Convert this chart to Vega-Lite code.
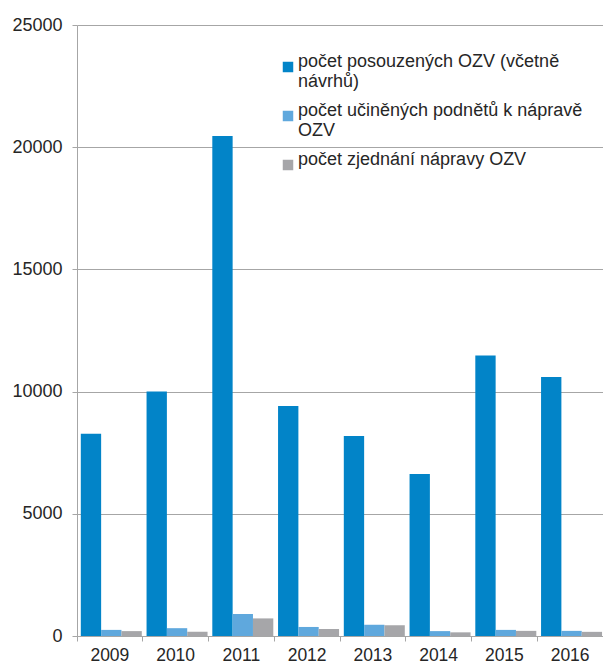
{
  "$schema": "https://vega.github.io/schema/vega-lite/v6.json",
  "autosize": "none",
  "width": 526,
  "height": 611,
  "padding": {"left": 77, "top": 25, "right": 0, "bottom": 28},
  "background": "white",
  "config": {
    "view": {"stroke": null},
    "font": "Liberation Sans"
  },
  "data": {
    "values": [
      {"year": "2009", "series": "počet posouzených OZV (včetně návrhů)", "value": 8280},
      {"year": "2009", "series": "počet učiněných podnětů k nápravě OZV", "value": 250},
      {"year": "2009", "series": "počet zjednání nápravy OZV", "value": 200},
      {"year": "2010", "series": "počet posouzených OZV (včetně návrhů)", "value": 10000},
      {"year": "2010", "series": "počet učiněných podnětů k nápravě OZV", "value": 320},
      {"year": "2010", "series": "počet zjednání nápravy OZV", "value": 170},
      {"year": "2011", "series": "počet posouzených OZV (včetně návrhů)", "value": 20460},
      {"year": "2011", "series": "počet učiněných podnětů k nápravě OZV", "value": 900},
      {"year": "2011", "series": "počet zjednání nápravy OZV", "value": 720},
      {"year": "2012", "series": "počet posouzených OZV (včetně návrhů)", "value": 9410},
      {"year": "2012", "series": "počet učiněných podnětů k nápravě OZV", "value": 370},
      {"year": "2012", "series": "počet zjednání nápravy OZV", "value": 290},
      {"year": "2013", "series": "počet posouzených OZV (včetně návrhů)", "value": 8180},
      {"year": "2013", "series": "počet učiněných podnětů k nápravě OZV", "value": 460},
      {"year": "2013", "series": "počet zjednání nápravy OZV", "value": 440},
      {"year": "2014", "series": "počet posouzených OZV (včetně návrhů)", "value": 6630},
      {"year": "2014", "series": "počet učiněných podnětů k nápravě OZV", "value": 200},
      {"year": "2014", "series": "počet zjednání nápravy OZV", "value": 150},
      {"year": "2015", "series": "počet posouzených OZV (včetně návrhů)", "value": 11480},
      {"year": "2015", "series": "počet učiněných podnětů k nápravě OZV", "value": 250},
      {"year": "2015", "series": "počet zjednání nápravy OZV", "value": 210},
      {"year": "2016", "series": "počet posouzených OZV (včetně návrhů)", "value": 10600},
      {"year": "2016", "series": "počet učiněných podnětů k nápravě OZV", "value": 210},
      {"year": "2016", "series": "počet zjednání nápravy OZV", "value": 170}
    ]
  },
  "layer": [
    {
      "mark": {"type": "bar"},
      "encoding": {
        "x": {
          "field": "year", "type": "nominal",
          "scale": {"paddingInner": 0, "paddingOuter": 0},
          "axis": {
            "title": null, "bandPosition": 0, "labels": false, "orient": "bottom",
            "domainColor": "#a6a6a6", "tickColor": "#a6a6a6", "tickSize": 5, "grid": false
          }
        },
        "xOffset": {
          "field": "series", "type": "nominal",
          "scale": {"paddingInner": 0, "paddingOuter": 0.117, "align": 0.8},
          "sort": ["počet posouzených OZV (včetně návrhů)", "počet učiněných podnětů k nápravě OZV", "počet zjednání nápravy OZV"]
        },
        "y": {
          "field": "value", "type": "quantitative",
          "scale": {"domain": [0, 25000], "nice": false},
          "axis": {
            "title": null, "values": [0, 5000, 10000, 15000, 20000, 25000],
            "grid": true, "gridColor": "#a6a6a6", "domainColor": "#a6a6a6", "tickColor": "#a6a6a6",
            "tickSize": 5, "labelFontSize": 18, "labelColor": "#262626", "labelPadding": 10,
            "labelFont": "Liberation Sans", "format": "d"
          }
        },
        "color": {
          "field": "series", "type": "nominal",
          "sort": ["počet posouzených OZV (včetně návrhů)", "počet učiněných podnětů k nápravě OZV", "počet zjednání nápravy OZV"],
          "scale": {"range": ["#0284c8", "#5fa8dd", "#a6a6a9"]},
          "legend": {
            "title": null, "orient": "none", "legendX": 202, "legendY": 33,
            "symbolType": "square", "symbolSize": 110, "symbolStrokeWidth": 0,
            "labelFont": "Liberation Sans", "labelFontSize": 18, "labelColor": "#262626",
            "labelLimit": 400, "labelOffset": 1, "rowPadding": 11, "padding": 0,
            "labelLineHeight": 21, "labelBaseline": "alphabetic",
            "labelExpr": "datum.label == 'počet posouzených OZV (včetně návrhů)' ? ['počet posouzených OZV (včetně', 'návrhů)'] : datum.label == 'počet učiněných podnětů k nápravě OZV' ? ['počet učiněných podnětů k nápravě', 'OZV'] : datum.label"
          }
        }
      }
    },
    {
      "mark": {"type": "bar", "opacity": 0},
      "encoding": {
        "x": {
          "field": "year", "type": "nominal",
          "axis": {
            "title": null, "ticks": false, "domain": false, "grid": false, "orient": "bottom",
            "labelFontSize": 17.5, "labelColor": "#262626", "labelPadding": 10,
            "labelFont": "Liberation Sans", "labelAngle": 0
          }
        },
        "y": {"field": "value", "type": "quantitative"}
      }
    }
  ],
  "resolve": {"axis": {"x": "independent"}}
}
